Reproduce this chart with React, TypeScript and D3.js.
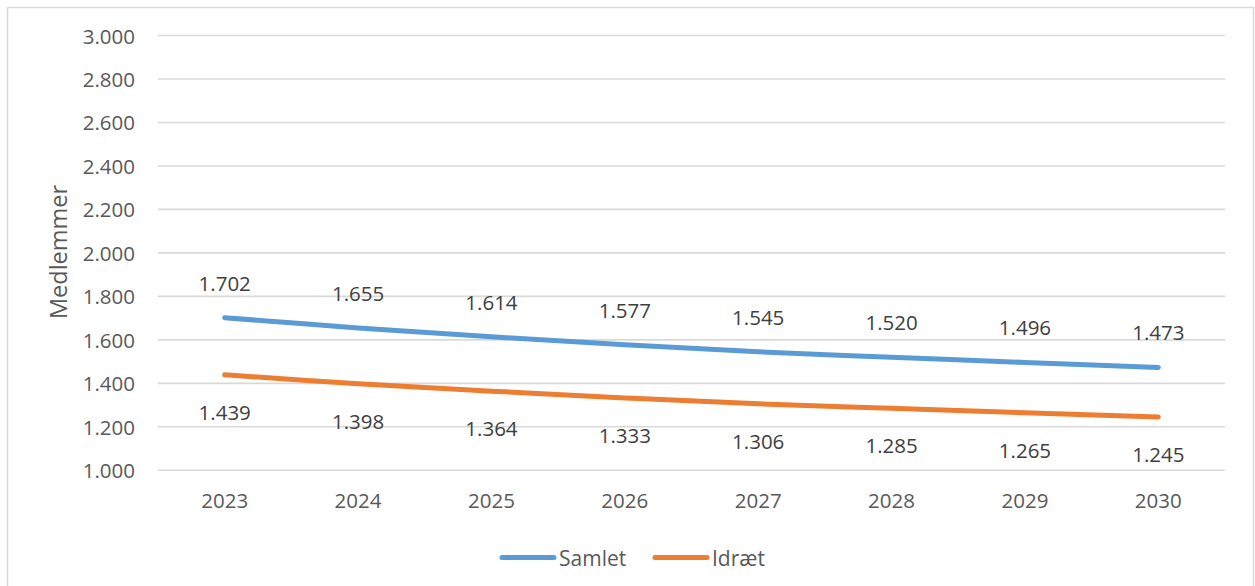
import React from "react";
import * as d3 from "d3";

const years = ["2023", "2024", "2025", "2026", "2027", "2028", "2029", "2030"];
const samlet = [1702, 1655, 1614, 1577, 1545, 1520, 1496, 1473];
const idraet = [1439, 1398, 1364, 1333, 1306, 1285, 1265, 1245];
const yTicks = [1000, 1200, 1400, 1600, 1800, 2000, 2200, 2400, 2600, 2800, 3000];
const seriesNames = ["Samlet", "Idræt"];
const colors = ["#5B9BD5", "#ED7D31"];

const W = 1255;
const H = 586;
const FONT = "'Open Sans', 'Liberation Sans', sans-serif";

const fmt = (v: number) => {
  const s = v.toString();
  return s.length > 3 ? s.slice(0, s.length - 3) + "." + s.slice(-3) : s;
};

export default function App() {
  const x = d3.scaleBand<string>().domain(years).range([158, 1225]);
  const y = d3.scaleLinear().domain([1000, 3000]).range([470.3, 35.5]);
  const cx = (yr: string) => (x(yr) as number) + x.bandwidth() / 2;
  const line = d3
    .line<number>()
    .x((_, i) => cx(years[i]))
    .y((d) => y(d))
    .curve(d3.curveCatmullRom.alpha(0.5));
  const series = [samlet, idraet];

  return (
    <svg
      width={W}
      height={H}
      style={{ position: "absolute", left: 0, top: 0, background: "#fff" }}
      fontFamily={FONT}
    >
      <rect x={0} y={0} width={W} height={H} fill="#fff" />
      <rect x={7.5} y={7.5} width={1246} height={600} fill="none" stroke="#d9d9d9" strokeWidth={1.5} />
      {yTicks.map((t) => (
        <g key={t}>
          <line x1={158} x2={1225} y1={y(t)} y2={y(t)} stroke="#d9d9d9" strokeWidth={1.6} />
          <text
            x={135}
            y={y(t)}
            textAnchor="end"
            dominantBaseline="central"
            fontSize={20.5}
            fill="#595959"
          >
            {fmt(t)}
          </text>
        </g>
      ))}
      {years.map((yr) => (
        <text
          key={yr}
          x={cx(yr)}
          y={500}
          textAnchor="middle"
          dominantBaseline="central"
          fontSize={20.5}
          fill="#595959"
        >
          {yr}
        </text>
      ))}
      <text
        transform={`translate(58,252) rotate(-90)`}
        textAnchor="middle"
        dominantBaseline="central"
        fontSize={23.5}
        fill="#595959"
      >
        Medlemmer
      </text>
      {series.map((s, si) => (
        <path
          key={si}
          d={line(s) || ""}
          fill="none"
          stroke={colors[si]}
          strokeWidth={5}
          strokeLinecap="round"
          strokeLinejoin="round"
        />
      ))}
      {series.map((s, si) =>
        s.map((v, i) => (
          <text
            key={`${si}-${i}`}
            x={cx(years[i])}
            y={y(v) + (si === 0 ? -35 : 37)}
            textAnchor="middle"
            dominantBaseline="central"
            fontSize={20.5}
            fill="#404040"
          >
            {fmt(v)}
          </text>
        ))
      )}
      {seriesNames.map((n, i) => {
        const x0 = i === 0 ? 500 : 653;
        return (
          <g key={n}>
            <line x1={x0 + 2} x2={x0 + 54} y1={557.5} y2={557.5} stroke={colors[i]} strokeWidth={5} strokeLinecap="round" />
            <text x={x0 + 59} y={557.5} dominantBaseline="central" fontSize={21} fill="#595959">
              {n}
            </text>
          </g>
        );
      })}
    </svg>
  );
}
